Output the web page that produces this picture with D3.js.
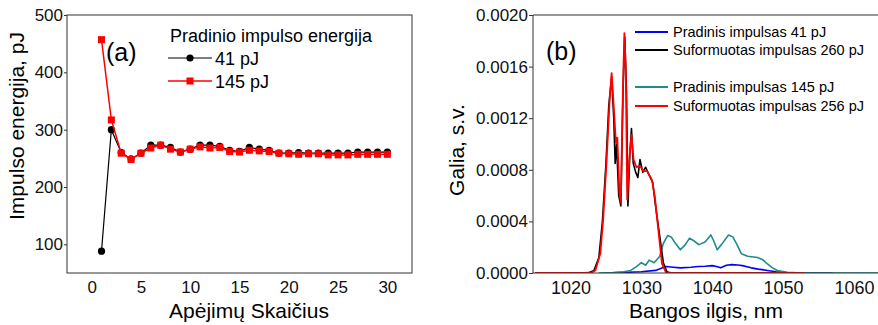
<!DOCTYPE html>
<html>
<head>
<meta charset="utf-8">
<script src="https://cdn.jsdelivr.net/npm/d3@7"></script>
<style>
  body { margin: 0; background: #fff; }
  svg { display: block; font-family: "Liberation Sans", Arial, sans-serif; }
  .axis path, .axis line { stroke: #333; }
  .axis text { fill: #111; }
</style>
</head>
<body>
<svg id="chart" width="878" height="325"></svg>
<script>
// (a) energy after each round trip
let passes = d3.range(1, 31);
let energy41 = [88, 300, 260, 249, 259, 273, 273, 269, 261, 266, 273, 273, 271, 264, 262, 269, 266, 264, 259, 259,
  260, 259, 259, 259, 259, 259, 261, 261, 261, 261];
let energy145 = [457, 317, 259, 248, 259, 268, 273, 266, 261, 266, 270, 268, 269, 262, 261, 264, 263, 262, 259, 258,
  257, 258, 258, 256, 256, 256, 257, 257, 257, 257];
let legendA = ['41 pJ', '145 pJ'];

// (b) spectra, [wavelength nm, power a.u.]
let pradinis41 = [[1025, 0], [1028, 0.000005], [1030, 0.00001], [1032, 0.00002], [1033, 0.00004], [1033.5, 0.00005],
  [1034.5, 0.000045], [1035.5, 0.00004], [1037, 0.000045], [1038, 0.00005], [1039, 0.000052], [1040, 0.000057],
  [1040.6, 0.00005], [1041.2, 0.00004], [1042, 0.00006], [1042.8, 0.000065], [1043.6, 0.000062], [1044.5, 0.000055],
  [1045.5, 0.00004], [1046.5, 0.00003], [1047.8, 0.00002], [1049, 0.00001], [1050.5, 0.000004], [1052, 0], [1057, 0]];
let pradinis145 = [[1024, 0], [1026, 0.000003], [1027.5, 0.00001], [1028.5, 0.00002], [1029.3, 0.00005], [1030, 0.00008],
  [1030.6, 0.00006], [1031.1, 0.0001], [1031.8, 0.00008], [1032.6, 0.00013], [1033.1, 0.00023], [1033.7, 0.00029],
  [1034.2, 0.00028], [1034.8, 0.00023], [1035.5, 0.00018], [1036.2, 0.00022], [1036.8, 0.00027], [1037.4, 0.00025],
  [1038.1, 0.00022], [1039, 0.00024], [1039.8, 0.000295], [1040.2, 0.00025], [1040.7, 0.00018], [1041.3, 0.00022],
  [1042.3, 0.000295], [1042.9, 0.00028], [1043.5, 0.00022], [1044.1, 0.00015], [1045, 0.00013], [1046.4, 0.00012],
  [1047.2, 0.0001], [1047.8, 0.00007], [1048.5, 0.00004], [1049.2, 0.00002], [1050.6, 0.000005], [1052, 0.000002], [1066, 0]];
let suformuotas260 = [[1015, 0], [1022.5, 0], [1023.3, 0.00002], [1024, 0.00012], [1024.5, 0.0004], [1025, 0.00085],
  [1025.4, 0.0013], [1025.8, 0.00152], [1026.1, 0.0012], [1026.3, 0.00085], [1026.5, 0.001], [1026.8, 0.0006],
  [1027.1, 0.00052], [1027.4, 0.0014], [1027.65, 0.00183], [1027.9, 0.0014], [1028.1, 0.00052], [1028.35, 0.0009],
  [1028.6, 0.00112], [1028.85, 0.00085], [1029.2, 0.00078], [1029.5, 0.00074], [1029.8, 0.00088], [1030.2, 0.00078],
  [1030.6, 0.00082], [1031, 0.00077], [1031.6, 0.0007], [1032, 0.00052], [1032.6, 0.00028], [1033.1, 0.00008],
  [1033.6, 0.00001], [1034.2, 0]];
let suformuotas256 = [[1015, 0], [1022, 0], [1023, 0.000005], [1023.5, 0.00002], [1024.2, 0.00015], [1024.6, 0.00041],
  [1025.1, 0.00088], [1025.5, 0.00132], [1025.8, 0.00155], [1026.1, 0.00129], [1026.4, 0.00101], [1026.6, 0.00105],
  [1026.9, 0.00062], [1027.1, 0.00055], [1027.4, 0.00144], [1027.6, 0.00186], [1027.8, 0.00157], [1028.0, 0.00057],
  [1028.3, 0.00088], [1028.6, 0.00107], [1028.9, 0.00088], [1029.3, 0.00082], [1029.8, 0.00083], [1030.3, 0.00079],
  [1030.8, 0.00079], [1031.5, 0.00072], [1031.9, 0.00059], [1032.4, 0.00033], [1032.9, 0.000075], [1033.5, 0], [1053, 0]];
let legendB = ['Pradinis impulsas 41 pJ', 'Suformuotas impulsas 260 pJ', 'Pradinis impulsas 145 pJ', 'Suformuotas impulsas 256 pJ'];

let svg = d3.select('#chart');

function makeChartA() {
  let left = 67, right = 412, top = 15, bottom = 273;

  let xScale = d3.scaleLinear().domain([-2.5, 32.5]).range([left, right]);
  let yScale = d3.scaleLinear().domain([50, 500]).range([bottom, top]);

  // frame
  svg.append('rect')
    .attr('x', left).attr('y', top)
    .attr('width', right - left).attr('height', bottom - top)
    .attr('fill', 'none').attr('stroke', '#333');

  let xAxis = svg.append('g')
    .attr('class', 'axis')
    .attr('transform', `translate(0, ${bottom})`)
    .call(d3.axisBottom(xScale).tickValues(d3.range(0, 31, 5)).tickSize(0).tickPadding(8));
  xAxis.select('.domain').remove();
  xAxis.selectAll('text').attr('font-size', 17);

  let yAxis = svg.append('g')
    .attr('class', 'axis')
    .attr('transform', `translate(${left}, 0)`)
    .call(d3.axisLeft(yScale).tickValues(d3.range(100, 501, 100)).tickSize(3).tickPadding(1));
  yAxis.select('.domain').remove();
  yAxis.selectAll('text').attr('font-size', 17);

  let line = d3.line().x((d, i) => xScale(passes[i])).y((d) => yScale(d));

  svg.append('path').datum(energy41)
    .attr('d', line).attr('fill', 'none').attr('stroke', '#000').attr('stroke-width', 1.2);
  svg.selectAll('.dot41').data(energy41).enter().append('circle')
    .attr('cx', (d, i) => xScale(passes[i])).attr('cy', (d) => yScale(d))
    .attr('r', 3.6).attr('fill', '#000');

  svg.append('path').datum(energy145)
    .attr('d', line).attr('fill', 'none').attr('stroke', '#f00').attr('stroke-width', 1.5);
  svg.selectAll('.sq145').data(energy145).enter().append('rect')
    .attr('x', (d, i) => xScale(passes[i]) - 3.5).attr('y', (d) => yScale(d) - 3.5)
    .attr('width', 7).attr('height', 7).attr('fill', '#f00');

  // legend
  svg.append('text').attr('x', 170).attr('y', 42).attr('font-size', 18).text('Pradinio impulso energija');
  let ly = [58, 81];
  let colors = ['#000', '#f00'];
  legendA.forEach((name, i) => {
    svg.append('line').attr('x1', 168).attr('x2', 212).attr('y1', ly[i]).attr('y2', ly[i])
      .attr('stroke', colors[i]).attr('stroke-width', i ? 1.5 : 1.2);
    if (i === 0) {
      svg.append('circle').attr('cx', 190).attr('cy', ly[i]).attr('r', 3.6).attr('fill', '#000');
    } else {
      svg.append('rect').attr('x', 186.5).attr('y', ly[i] - 3.5).attr('width', 7).attr('height', 7).attr('fill', '#f00');
    }
    svg.append('text').attr('x', 215).attr('y', ly[i] + 7).attr('font-size', 18).text(name);
  });

  svg.append('text').attr('x', 106).attr('y', 61).attr('font-size', 25).text('(a)');

  // axis titles
  svg.append('text')
    .attr('transform', 'translate(24, 126) rotate(-90)')
    .attr('text-anchor', 'middle').attr('font-size', 21)
    .text('Impulso energija, pJ');
  svg.append('text')
    .attr('x', 249).attr('y', 318)
    .attr('text-anchor', 'middle').attr('font-size', 21)
    .text('Apėjimų Skaičius');
}

function makeChartB() {
  let left = 533, right = 878, top = 15, bottom = 273;

  let xScale = d3.scaleLinear().domain([1014.7, 1063.4]).range([left, right]);
  let yScale = d3.scaleLinear().domain([0, 0.002]).range([bottom, top]);

  svg.append('clipPath').attr('id', 'clipB')
    .append('rect').attr('x', left).attr('y', top - 2).attr('width', right - left).attr('height', bottom - top + 2);

  let xAxis = svg.append('g')
    .attr('class', 'axis')
    .attr('transform', `translate(0, ${bottom})`)
    .call(d3.axisBottom(xScale).tickValues(d3.range(1020, 1061, 10)).tickFormat(d3.format('d')).tickSize(0).tickPadding(8));
  xAxis.select('.domain').remove();
  xAxis.selectAll('text').attr('font-size', 18);

  let yAxis = svg.append('g')
    .attr('class', 'axis')
    .attr('transform', `translate(${left}, 0)`)
    .call(d3.axisLeft(yScale).tickValues(d3.range(0, 0.00201, 0.0004)).tickFormat(d3.format('.4f')).tickSize(4).tickPadding(1));
  yAxis.select('.domain').remove();
  yAxis.selectAll('text').attr('font-size', 17);

  let line = d3.line().x((d) => xScale(d[0])).y((d) => yScale(d[1]));

  let series = [
    { data: pradinis41, color: '#0000ff', width: 1.6 },
    { data: pradinis145, color: '#1e8c8c', width: 1.6 },
    { data: suformuotas260, color: '#000', width: 1.6 },
    { data: suformuotas256, color: '#ff0000', width: 1.8 }
  ];
  let plot = svg.append('g').attr('clip-path', 'url(#clipB)');
  series.forEach((s) => {
    plot.append('path').datum(s.data)
      .attr('d', line).attr('fill', 'none')
      .attr('stroke', s.color).attr('stroke-width', s.width).attr('stroke-linejoin', 'round');
  });

  // frame: left, top, bottom
  svg.append('path')
    .attr('d', `M${right},${top}H${left}V${bottom}H${right}`)
    .attr('fill', 'none').attr('stroke', '#333');

  // legend
  let ly = [32, 50, 87, 106];
  let lc = ['#0000ff', '#000', '#1e8c8c', '#ff0000'];
  legendB.forEach((name, i) => {
    svg.append('line').attr('x1', 635).attr('x2', 668).attr('y1', ly[i]).attr('y2', ly[i])
      .attr('stroke', lc[i]).attr('stroke-width', 1.8);
    svg.append('text').attr('x', 673).attr('y', ly[i] + 5).attr('font-size', 14.5).text(name);
  });

  svg.append('text').attr('x', 546).attr('y', 60).attr('font-size', 25).text('(b)');

  svg.append('text')
    .attr('transform', 'translate(464, 150) rotate(-90)')
    .attr('text-anchor', 'middle').attr('font-size', 21)
    .text('Galia, s.v.');
  svg.append('text')
    .attr('x', 706).attr('y', 318)
    .attr('text-anchor', 'middle').attr('font-size', 21)
    .text('Bangos ilgis, nm');
}

makeChartA();
makeChartB();
</script>
</body>
</html>
